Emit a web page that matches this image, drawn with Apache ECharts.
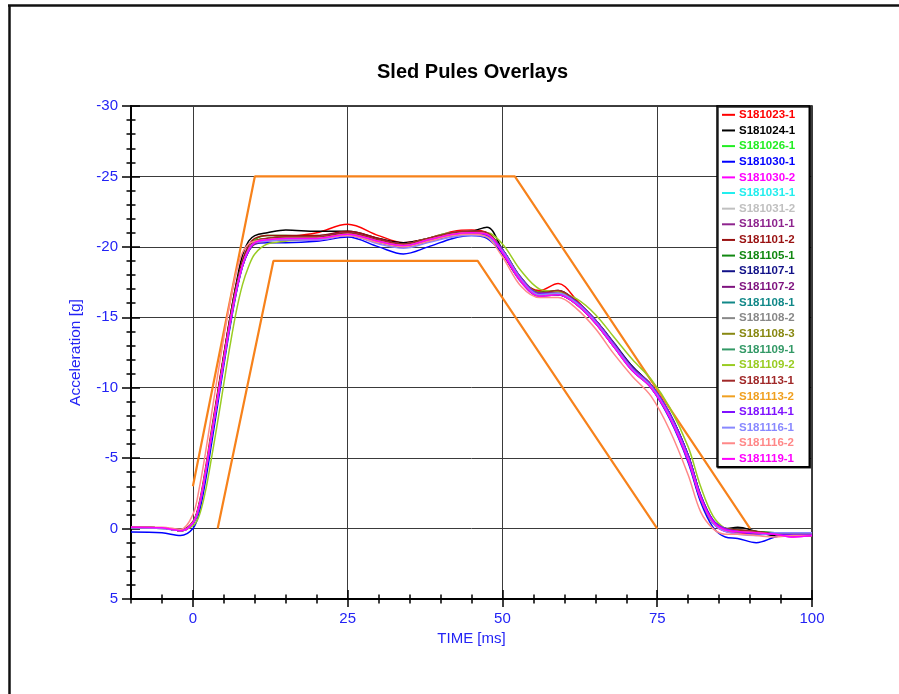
<!DOCTYPE html>
<html><head><meta charset="utf-8">
<script src="https://cdn.jsdelivr.net/npm/echarts@6/dist/echarts.min.js"></script>
<style>html,body{margin:0;padding:0;background:#fff}#c{width:899px;height:694px}</style>
</head><body><div id="c"></div>
<script>
// ---------- DATA ----------
const timeMs = [-10, -5, -2, 0, 1, 2, 3, 4, 5, 6, 7, 8, 9, 10, 12, 15, 20, 25, 30, 34, 38, 42, 45, 47.5, 50, 53, 56, 59, 62, 65, 68, 71, 74, 77, 80, 82, 84, 86, 88, 91, 94, 97, 100];

const seriesNames = ['S181023-1','S181024-1','S181026-1','S181030-1','S181030-2','S181031-1','S181031-2','S181101-1','S181101-2','S181105-1','S181107-1','S181107-2','S181108-1','S181108-2','S181108-3','S181109-1','S181109-2','S181113-1','S181113-2','S181114-1','S181116-1','S181116-2','S181119-1'];

const seriesColors = ['#ff0000','#000000','#22ee22','#0000ff','#ff00ff','#22eeee','#c0c0c0','#8e248e','#991111','#118811','#111188','#7f137f','#118888','#888888','#888811','#339966','#99cc22','#a02828','#f0a020','#7f11ff','#8888ff','#ff8888','#ff00ff'];

const v_S181023_1 = [-0.05, 0, 0.1, -0.5, -1.8, -4.2, -7.0, -9.7, -12.4, -15.0, -17.3, -19.0, -20.0, -20.4, -20.6, -20.7, -21.0, -21.6, -20.8, -20.3, -20.6, -21.1, -21.2, -21.0, -19.5, -17.6, -16.9, -17.4, -16.2, -14.7, -13.0, -11.3, -10.1, -8.0, -4.9, -2.0, -0.4, 0.2, 0.3, 0.4, 0.3, 0.5, 0.5];
const v_S181024_1 = [-0.1, -0.05, 0.1, -0.4, -1.6, -3.9, -6.7, -9.5, -12.3, -15.0, -17.4, -19.4, -20.4, -20.8, -21.0, -21.2, -21.1, -21.1, -20.6, -20.3, -20.6, -21.0, -21.1, -21.4, -19.8, -17.8, -16.8, -16.9, -16.1, -14.8, -13.1, -11.5, -10.2, -8.2, -5.2, -2.3, -0.4, 0.0, -0.1, 0.2, 0.5, 0.5, 0.4];
const v_S181026_1 = [-0.1, -0.05, 0.15, -0.35, -1.5, -3.8, -6.5, -9.2, -11.9, -14.5, -16.9, -18.8, -19.9, -20.5, -20.8, -20.8, -20.7, -21.0, -20.5, -20.2, -20.6, -21.0, -21.0, -20.8, -19.7, -17.7, -16.6, -16.7, -16.0, -14.7, -13.0, -11.4, -10.2, -8.1, -5.1, -2.3, -0.5, 0.1, 0.2, 0.3, 0.3, 0.5, 0.5];
const v_S181030_1 = [0.25, 0.3, 0.5, 0.0, -1.1, -3.3, -6.0, -8.8, -11.6, -14.3, -16.7, -18.6, -19.7, -20.2, -20.3, -20.3, -20.4, -20.7, -20.0, -19.5, -20.0, -20.6, -20.8, -20.6, -19.5, -17.5, -16.5, -16.7, -16.0, -14.7, -13.0, -11.3, -10.0, -7.8, -4.7, -1.9, -0.1, 0.6, 0.7, 1.0, 0.6, 0.3, 0.3];
const v_S181030_2 = [-0.1, -0.05, 0.15, -0.4, -1.6, -3.9, -6.7, -9.4, -12.1, -14.7, -17.0, -18.8, -19.9, -20.4, -20.6, -20.6, -20.5, -20.8, -20.3, -20.0, -20.4, -20.8, -21.0, -20.9, -19.6, -17.5, -16.5, -16.6, -15.9, -14.6, -12.9, -11.2, -10.0, -7.9, -4.8, -2.1, -0.4, 0.2, 0.3, 0.3, 0.4, 0.6, 0.5];
const v_S181031_1 = [-0.05, 0, 0.15, -0.35, -1.5, -3.8, -6.5, -9.2, -11.9, -14.5, -16.8, -18.7, -19.8, -20.3, -20.5, -20.6, -20.6, -20.9, -20.4, -20.1, -20.5, -20.9, -21.0, -20.8, -19.7, -17.7, -16.6, -16.7, -16.0, -14.7, -13.0, -11.3, -10.1, -8.0, -5.0, -2.2, -0.5, 0.1, 0.2, 0.3, 0.3, 0.4, 0.4];
const v_S181031_2 = [-0.1, -0.05, 0.1, -0.45, -1.7, -4.0, -6.8, -9.5, -12.2, -14.8, -17.1, -18.9, -20.0, -20.4, -20.6, -20.7, -20.8, -21.0, -20.5, -20.2, -20.6, -21.0, -21.1, -20.9, -19.7, -17.6, -16.6, -16.8, -16.0, -14.7, -13.0, -11.3, -10.1, -8.0, -5.0, -2.2, -0.4, 0.1, 0.2, 0.3, 0.4, 0.5, 0.4];
const v_S181101_1 = [-0.1, -0.05, 0.15, -0.4, -1.5, -3.8, -6.5, -9.2, -11.9, -14.5, -16.8, -18.6, -19.7, -20.2, -20.4, -20.5, -20.6, -20.9, -20.4, -20.1, -20.4, -20.8, -20.9, -20.8, -19.8, -17.8, -16.6, -16.6, -15.9, -14.6, -12.9, -11.3, -10.1, -8.1, -5.2, -2.4, -0.6, 0.1, 0.2, 0.3, 0.4, 0.5, 0.5];
const v_S181101_2 = [-0.1, -0.05, 0.1, -0.45, -1.7, -4.0, -6.8, -9.6, -12.3, -14.9, -17.2, -19.0, -20.1, -20.6, -20.8, -20.8, -20.8, -21.1, -20.6, -20.2, -20.6, -21.0, -21.1, -21.0, -19.7, -17.7, -16.7, -16.8, -16.1, -14.8, -13.1, -11.4, -10.2, -8.1, -5.1, -2.3, -0.5, 0.0, 0.1, 0.2, 0.4, 0.5, 0.4];
const v_S181105_1 = [-0.1, -0.05, 0.15, -0.4, -1.6, -3.9, -6.6, -9.3, -12.0, -14.6, -16.9, -18.7, -19.8, -20.4, -20.6, -20.7, -20.7, -20.9, -20.4, -20.1, -20.5, -20.8, -20.9, -20.7, -19.8, -17.8, -16.7, -16.7, -16.0, -14.7, -13.0, -11.4, -10.2, -8.1, -5.1, -2.3, -0.5, 0.0, 0.1, 0.2, 0.3, 0.4, 0.4];
const v_S181107_1 = [-0.1, -0.05, 0.15, -0.4, -1.6, -3.9, -6.6, -9.3, -12.0, -14.6, -16.9, -18.7, -19.8, -20.3, -20.5, -20.6, -20.6, -20.9, -20.4, -20.1, -20.5, -20.9, -21.0, -20.9, -19.8, -17.7, -16.6, -16.6, -16.0, -14.8, -13.2, -11.5, -10.2, -8.2, -5.2, -2.4, -0.6, 0.0, 0.2, 0.3, 0.3, 0.4, 0.4];
const v_S181107_2 = [-0.1, -0.05, 0.15, -0.4, -1.6, -3.9, -6.6, -9.3, -12.0, -14.6, -16.9, -18.7, -19.8, -20.3, -20.5, -20.6, -20.7, -21.0, -20.5, -20.2, -20.5, -20.9, -21.0, -20.9, -19.7, -17.6, -16.6, -16.7, -16.0, -14.7, -13.0, -11.3, -10.1, -8.0, -5.0, -2.2, -0.5, 0.1, 0.2, 0.3, 0.4, 0.5, 0.5];
const v_S181108_1 = [-0.1, -0.05, 0.15, -0.4, -1.6, -3.9, -6.6, -9.3, -12.0, -14.6, -16.9, -18.7, -19.8, -20.3, -20.5, -20.6, -20.6, -20.8, -20.3, -20.0, -20.4, -20.8, -20.9, -20.8, -19.7, -17.6, -16.5, -16.6, -15.9, -14.6, -12.9, -11.2, -10.0, -7.9, -4.9, -2.2, -0.5, 0.1, 0.2, 0.3, 0.4, 0.5, 0.4];
const v_S181108_2 = [-0.1, -0.05, 0.15, -0.4, -1.6, -3.9, -6.6, -9.3, -12.0, -14.6, -16.9, -18.7, -19.8, -20.3, -20.5, -20.6, -20.7, -20.9, -20.4, -20.1, -20.5, -20.9, -21.0, -20.9, -19.7, -17.7, -16.7, -16.8, -16.0, -14.7, -13.0, -11.3, -10.1, -8.0, -5.0, -2.2, -0.5, 0.0, 0.1, 0.3, 0.4, 0.5, 0.4];
const v_S181108_3 = [-0.1, -0.05, 0.15, -0.4, -1.6, -3.9, -6.6, -9.3, -12.0, -14.6, -16.9, -18.7, -19.8, -20.4, -20.6, -20.7, -20.7, -20.9, -20.4, -20.1, -20.5, -20.9, -21.0, -20.9, -19.8, -17.8, -16.8, -16.8, -16.1, -14.8, -13.1, -11.4, -10.2, -8.1, -5.1, -2.3, -0.5, 0.0, 0.1, 0.3, 0.4, 0.4, 0.4];
const v_S181109_1 = [-0.1, -0.05, 0.15, -0.4, -1.6, -3.9, -6.6, -9.3, -12.0, -14.6, -16.9, -18.7, -19.8, -20.3, -20.5, -20.6, -20.6, -20.9, -20.4, -20.1, -20.5, -20.8, -20.9, -20.8, -19.7, -17.7, -16.6, -16.7, -16.0, -14.7, -13.0, -11.3, -10.1, -8.0, -5.0, -2.2, -0.5, 0.1, 0.2, 0.3, 0.4, 0.5, 0.4];
const v_S181109_2 = [-0.1, -0.05, 0.15, -0.2, -0.9, -2.6, -5.0, -7.6, -10.3, -13.0, -15.4, -17.3, -18.6, -19.5, -20.2, -20.4, -20.6, -20.9, -20.4, -20.1, -20.5, -20.9, -21.0, -21.0, -20.2, -18.3, -17.0, -16.8, -16.3, -15.2, -13.6, -12.0, -10.6, -8.6, -5.8, -3.0, -0.9, 0.0, 0.2, 0.3, 0.4, 0.4, 0.4];
const v_S181113_1 = [-0.1, -0.05, 0.15, -0.4, -1.6, -3.9, -6.6, -9.3, -12.0, -14.6, -16.9, -18.7, -19.8, -20.4, -20.6, -20.7, -20.7, -21.0, -20.5, -20.2, -20.6, -21.0, -21.1, -21.0, -19.7, -17.7, -16.7, -16.9, -16.1, -14.8, -13.1, -11.4, -10.2, -8.1, -5.1, -2.2, -0.4, 0.0, 0.1, 0.2, 0.4, 0.5, 0.4];
const v_S181113_2 = [-0.1, -0.05, 0.15, -0.4, -1.6, -3.9, -6.6, -9.3, -12.0, -14.6, -16.9, -18.7, -19.8, -20.3, -20.5, -20.6, -20.6, -20.9, -20.4, -20.1, -20.5, -20.9, -21.0, -20.9, -19.7, -17.6, -16.6, -16.7, -16.0, -14.7, -13.0, -11.3, -10.1, -8.0, -5.0, -2.2, -0.5, 0.1, 0.2, 0.3, 0.4, 0.5, 0.4];
const v_S181114_1 = [-0.1, -0.05, 0.15, -0.4, -1.5, -3.8, -6.5, -9.2, -11.9, -14.5, -16.8, -18.6, -19.7, -20.3, -20.5, -20.5, -20.5, -20.8, -20.3, -20.0, -20.4, -20.8, -20.9, -20.8, -19.8, -17.8, -16.7, -16.7, -16.1, -14.8, -13.1, -11.4, -10.2, -8.2, -5.2, -2.4, -0.6, 0.0, 0.2, 0.4, 0.4, 0.4, 0.4];
const v_S181116_1 = [-0.05, 0, 0.15, -0.4, -1.6, -3.9, -6.6, -9.3, -12.0, -14.6, -16.9, -18.7, -19.8, -20.3, -20.4, -20.5, -20.5, -20.8, -20.2, -19.9, -20.3, -20.7, -20.8, -20.7, -19.7, -17.7, -16.6, -16.7, -16.0, -14.7, -13.0, -11.3, -10.1, -8.0, -5.0, -2.2, -0.4, 0.2, 0.4, 0.5, 0.3, 0.3, 0.3];
const v_S181116_2 = [-0.1, -0.1, 0.05, -1.0, -2.8, -5.3, -8.1, -10.9, -13.6, -16.1, -18.2, -19.6, -20.2, -20.4, -20.5, -20.6, -20.6, -20.8, -20.3, -20.0, -20.4, -20.8, -20.9, -20.7, -19.3, -17.2, -16.4, -16.4, -15.6, -14.2, -12.4, -10.8, -9.4, -7.0, -3.8, -1.2, 0.0, 0.4, 0.4, 0.5, 0.6, 0.5, 0.5];
const v_S181119_1 = [-0.1, -0.05, 0.15, -0.4, -1.6, -3.9, -6.6, -9.3, -12.0, -14.6, -16.9, -18.7, -19.8, -20.3, -20.5, -20.6, -20.6, -20.9, -20.4, -20.1, -20.5, -20.9, -21.0, -20.9, -19.6, -17.6, -16.5, -16.6, -15.9, -14.6, -12.9, -11.2, -10.0, -7.9, -4.9, -2.2, -0.5, 0.1, 0.2, 0.3, 0.4, 0.6, 0.5];

const seriesValues = [v_S181023_1, v_S181024_1, v_S181026_1, v_S181030_1, v_S181030_2, v_S181031_1, v_S181031_2, v_S181101_1, v_S181101_2, v_S181105_1, v_S181107_1, v_S181107_2, v_S181108_1, v_S181108_2, v_S181108_3, v_S181109_1, v_S181109_2, v_S181113_1, v_S181113_2, v_S181114_1, v_S181116_1, v_S181116_2, v_S181119_1];

// corridor limits [time ms, g]
const corridorUpper = [[0, -3], [10, -25], [52, -25], [90, 0]];
const corridorLower = [[4, 0], [13, -19], [46, -19], [75, 0]];

const xTickLabels = [0, 25, 50, 75, 100];

// ---------- CHART ----------
const FONT = '"Liberation Sans", Arial, sans-serif';
const BLUE = '#2323f5';
const chart = echarts.init(document.getElementById('c'), null, {renderer: 'canvas'});

const dataSeries = seriesNames.map((name, i) => ({
  name: name,
  type: 'line',
  xAxisIndex: 0, yAxisIndex: 0,
  data: timeMs.map((t, k) => [t, seriesValues[i][k]]),
  smooth: 0.35,
  showSymbol: false,
  symbol: 'none',
  lineStyle: {color: seriesColors[i], width: 1.5},
  itemStyle: {color: seriesColors[i]},
  z: 3 + i * 0.01
}));

const corridorStyle = {type: 'line', showSymbol: false, symbol: 'none', xAxisIndex: 0, yAxisIndex: 0,
  lineStyle: {color: '#f7821b', width: 2.2}, itemStyle: {color: '#f7821b'}, z: 2, silent: true};

const baseX = {type: 'value', min: -10, max: 100, gridIndex: 0};
const baseY = {type: 'value', min: -30, max: 5, interval: 5, inverse: true, gridIndex: 0, position: 'left'};

const option = {
  animation: false,
  backgroundColor: '#fff',
  title: {
    text: 'Sled Pules Overlays', left: 372, top: 57,
    textStyle: {fontFamily: FONT, fontSize: 20, fontWeight: 'bold', color: '#000'}
  },
  graphic: [
    {type: 'line', shape: {x1: 8, y1: 5.5, x2: 899, y2: 5.5}, style: {stroke: '#111', lineWidth: 2.5}, silent: true},
    {type: 'line', shape: {x1: 9.5, y1: 5, x2: 9.5, y2: 694}, style: {stroke: '#111', lineWidth: 2.5}, silent: true}
  ],
  grid: {left: 131, right: 87, top: 106, bottom: 95, show: true, borderColor: '#000', borderWidth: 1.5, backgroundColor: 'transparent', containLabel: false},
  legend: {
    orient: 'vertical', left: 717, top: 106,
    padding: [1, 14, 0, 5], itemGap: 0,
    itemWidth: 13, itemHeight: 2, icon: 'rect',
    selectedMode: false,
    backgroundColor: '#fff', borderColor: '#000', borderWidth: 1.5,
    shadowColor: 'rgba(0,0,0,0.85)', shadowOffsetX: 1, shadowOffsetY: 1, shadowBlur: 0,
    textStyle: {fontFamily: FONT, fontSize: 11.5, fontWeight: 'bold', lineHeight: 15.64, padding: [0, 0, 0, -1]},
    data: seriesNames.map((n, i) => ({name: n, textStyle: {color: seriesColors[i]}, itemStyle: {color: seriesColors[i]}}))
  },
  xAxis: [
    Object.assign({}, baseX, {
      interval: 5, position: 'bottom',
      name: 'TIME [ms]', nameLocation: 'middle', nameGap: 30,
      nameTextStyle: {color: BLUE, fontFamily: FONT, fontSize: 15},
      axisLine: {show: true, onZero: false, lineStyle: {color: '#000', width: 2}},
      axisTick: {show: true, inside: false, length: 4.5, lineStyle: {color: '#000', width: 1.5}},
      axisLabel: {show: true, margin: 12, color: BLUE, fontFamily: FONT, fontSize: 15,
        formatter: v => (xTickLabels.indexOf(v) >= 0 ? String(v) : '')},
      splitLine: {show: true, lineStyle: {color: ['rgba(0,0,0,0)', 'rgba(0,0,0,0)', '#3a3a3a', 'rgba(0,0,0,0)', 'rgba(0,0,0,0)'], width: 1}}
    }),
    Object.assign({}, baseX, {
      interval: 5, position: 'bottom',
      axisLine: {show: false, onZero: false},
      axisTick: {show: true, inside: true, length: 4.5, lineStyle: {color: '#000', width: 1.5}},
      axisLabel: {show: false}, splitLine: {show: false}
    }),
    Object.assign({}, baseX, {
      position: 'bottom',
      axisLine: {show: false, onZero: false},
      axisTick: {show: true, inside: false, length: 8, customValues: xTickLabels, lineStyle: {color: '#000', width: 1.5}},
      axisLabel: {show: false}, splitLine: {show: false}
    }),
    Object.assign({}, baseX, {
      position: 'bottom',
      axisLine: {show: false, onZero: false},
      axisTick: {show: true, inside: true, length: 9, customValues: xTickLabels, lineStyle: {color: '#000', width: 1.5}},
      axisLabel: {show: false}, splitLine: {show: false}
    })
  ],
  yAxis: [
    Object.assign({}, baseY, {
      name: 'Acceleration [g]', nameLocation: 'middle', nameGap: 47,
      nameTextStyle: {color: BLUE, fontFamily: FONT, fontSize: 15.5},
      axisLine: {show: true, onZero: false, lineStyle: {color: '#000', width: 2}},
      axisTick: {show: true, inside: false, length: 9, lineStyle: {color: '#000', width: 1.5}},
      minorTick: {show: true, splitNumber: 5, length: 4.5, lineStyle: {color: '#000', width: 1.5}},
      axisLabel: {show: true, margin: 13, color: BLUE, fontFamily: FONT, fontSize: 15},
      splitLine: {show: true, lineStyle: {color: '#3a3a3a', width: 1}}
    }),
    Object.assign({}, baseY, {
      axisLine: {show: false, onZero: false},
      axisTick: {show: true, inside: true, length: 9, lineStyle: {color: '#000', width: 1.5}},
      minorTick: {show: true, splitNumber: 5, length: 4.5, lineStyle: {color: '#000', width: 1.5}},
      axisLabel: {show: false}, splitLine: {show: false}
    })
  ],
  series: [
    Object.assign({}, corridorStyle, {name: 'corridor-upper', data: corridorUpper}),
    Object.assign({}, corridorStyle, {name: 'corridor-lower', data: corridorLower})
  ].concat(dataSeries)
};
chart.setOption(option);
</script>
</body></html>
